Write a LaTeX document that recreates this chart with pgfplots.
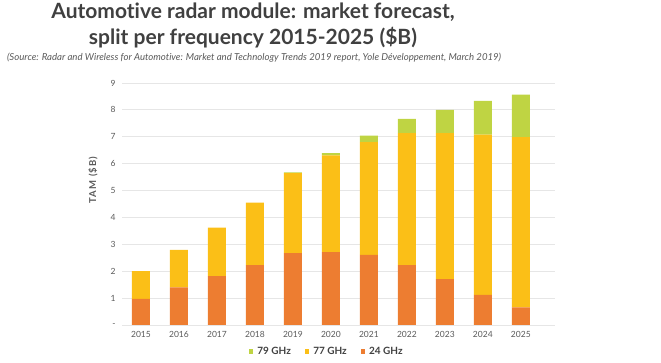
\documentclass[border=0pt]{standalone}
\usepackage{pgfplots}
\pgfplotsset{compat=1.18}
\usepackage{fontspec}
\setmainfont{Lato}[Ligatures={NoCommon,NoContextual}]
\definecolor{c24}{HTML}{ED7D31}
\definecolor{c77}{HTML}{FBBF17}
\definecolor{c79}{HTML}{BFD443}
\definecolor{txt}{HTML}{404040}
\definecolor{tick}{HTML}{595959}
\definecolor{grd}{HTML}{E6E6E6}
\begin{document}
\begin{tikzpicture}
\useasboundingbox (0pt,0pt) rectangle (661pt,363pt);
\node[font=\bfseries\fontsize{21}{26}\selectfont, text=txt, align=center] at (253pt,338pt) {Automot\kern0pt ive radar module: market forecast,\\ split per frequency 2015-2025 (\$B)};
\node[font=\itshape\fontsize{9.6}{11}\selectfont, text=tick] at (254pt,305pt) {(Source: Radar and Wireless for Automot\kern0pt ive: Market and Technology Trends 2019 report, Yole D\'eveloppement, March 2019)};
\begin{axis}[
  at={(122pt,38pt)}, anchor=south west,
  width=433pt, height=242pt, scale only axis,
  ybar stacked, bar width=18pt,
  xmin=-0.5, xmax=10.9, ymin=0, ymax=9,
  xtick={0,...,10},
  xticklabels={2015,2016,2017,2018,2019,2020,2021,2022,2023,2024,2025},
  ytick={0,...,9},
  yticklabels={-,1,2,3,4,5,6,7,8,9},
  /pgf/number format/assume math mode=true,
  tick label style={font=\fontsize{8.5}{10}\selectfont, text=tick},
  major tick length=0pt,
  ymajorgrids, grid style={grd, line width=0.8pt},
  axis x line*=bottom, axis y line*=left,
  x axis line style={draw=grd, line width=0.8pt, -},
  y axis line style={draw=none},
  yticklabel style={xshift=-3pt},
  xticklabel style={yshift=-3pt},
  ylabel={TAM (\$B)},
  ylabel style={font=\bfseries\fontsize{9.5}{11}\selectfont\addfontfeatures{LetterSpace=12}, text=tick, at={(axis description cs:-0.067,0.6)}, anchor=center},
  legend style={at={(axis description cs:0.473,-0.11)}, anchor=center, draw=none, fill=none, font=\bfseries\fontsize{10}{12}\selectfont, text=txt, legend columns=3, /tikz/every even column/.append style={column sep=12pt}, /tikz/every odd column/.append style={column sep=2pt}},
  legend image code/.code={\fill[#1] (0pt,-2.2pt) rectangle (4.4pt,2.2pt);},
  reverse legend,
]
\addplot[fill=c24, draw=none] coordinates {(0,0.97) (1,1.40) (2,1.82) (3,2.23) (4,2.67) (5,2.71) (6,2.61) (7,2.23) (8,1.71) (9,1.12) (10,0.66)};
\addplot[fill=c77, draw=none] coordinates {(0,1.03) (1,1.39) (2,1.80) (3,2.32) (4,2.98) (5,3.60) (6,4.19) (7,4.91) (8,5.43) (9,5.96) (10,6.33)};
\addplot[fill=c79, draw=none] coordinates {(0,0) (1,0) (2,0) (3,0) (4,0.03) (5,0.08) (6,0.24) (7,0.53) (8,0.86) (9,1.26) (10,1.58)};
\legend{24 GHz, 77 GHz, 79 GHz}
\end{axis}
\end{tikzpicture}
\end{document}
